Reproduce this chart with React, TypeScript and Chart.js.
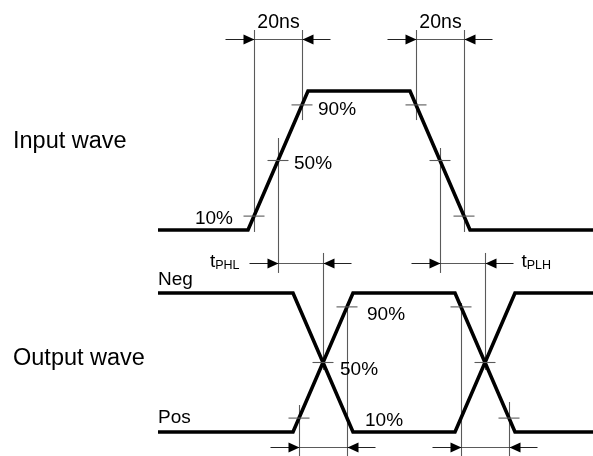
import React, { useEffect, useRef } from "react";
import { Chart, registerables } from "chart.js";
Chart.register(...registerables);

// Time axis in ns, signal levels in % of the swing
const inputTimes = [-37.5, 0, 25, 67.5, 92.5, 144];
const inputLevels = [0, 0, 100, 100, 0, 0];
const outputTimes = [-37.5, 18.75, 43.75, 86.25, 111.25, 144];
const negLevels = [100, 100, 0, 0, 100, 100];
const posLevels = [0, 0, 100, 100, 0, 0];

// Threshold crossings marked with short ticks
const inputMarkTimes = [2.5, 12.5, 22.5, 70, 80, 90];
const inputMarkLevels = [10, 50, 90, 90, 50, 10];
const posMarkTimes = [21.25, 31.25, 41.25, 88.75, 98.75, 108.75];
const posMarkLevels = [10, 50, 90, 90, 50, 10];

// Dimension annotations (start/end time of each measured interval)
const dimLabels = ["20ns", "20ns", "tPHL", "tPLH", "", ""];
const dimStart = [2.5, 70, 12.5, 80, 21.25, 88.75];
const dimEnd = [22.5, 90, 31.25, 98.75, 41.25, 108.75];

// Extension lines: time, axis, level range
const extTimes = [2.5, 22.5, 12.5, 70, 90, 80, 31.25, 98.75, 21.25, 41.25, 88.75, 108.75];
const extAxis = ["yIn", "yIn", "yIn", "yIn", "yIn", "yIn", "yOut", "yOut", "yOut", "yOut", "yOut", "yOut"];
const extFrom = [143.9, 143.9, 66.2, 143.9, 143.9, 59.0, 128.8, 128.8, 19.4, 92.8, 92.8, 21.6];
const extTo = [-1.4, 79.1, -30.9, 79.1, -1.4, -30.9, 44.6, 44.6, -17.3, -17.3, -17.3, -17.3];

// Percentage labels anchored at crossings
const pctText = ["10%", "50%", "90%", "90%", "50%", "10%"];
const pctTime = [2.5, 12.5, 22.5, 41.25, 31.25, 41.25];
const pctLevel = [10, 50, 90, 90, 50, 10];
const pctAxis = ["yIn", "yIn", "yIn", "yOut", "yOut", "yOut"];

const FONT = '"Liberation Sans", Arial, Helvetica, sans-serif';

export default function App() {
  const ref = useRef<HTMLCanvasElement | null>(null);

  useEffect(() => {
    if (!ref.current) return;
    const dimAxis = ["yIn", "yIn", "yOut", "yOut", "yOut", "yOut"];
    const dimRow = [137.4, 137.4, 121.6, 121.6, -10.8, -10.8];
    const pctDx = [-21, 16, 16, 20, 17, 18];
    const pctDy = [8, 8, 10, 13, 13, 8];
    const pctAlign = ["right", "left", "left", "left", "left", "left"];

    const annot = {
      id: "annot",
      beforeDatasetsDraw(chart: any) {
        const ctx = chart.ctx;
        const xs = chart.scales.x;
        ctx.save();
        ctx.strokeStyle = "#5a5a5a";
        ctx.lineWidth = 1.1;
        for (let i = 0; i < extTimes.length; i++) {
          const ys = chart.scales[extAxis[i]];
          const x = Math.round(xs.getPixelForValue(extTimes[i])) + 0.5;
          ctx.beginPath();
          ctx.moveTo(x, ys.getPixelForValue(extFrom[i]));
          ctx.lineTo(x, ys.getPixelForValue(extTo[i]));
          ctx.stroke();
        }
        for (let i = 0; i < dimStart.length; i++) {
          const ys = chart.scales[dimAxis[i]];
          const y = Math.round(ys.getPixelForValue(dimRow[i])) + 0.5;
          const x1 = Math.round(xs.getPixelForValue(dimStart[i])) + 0.5;
          const x2 = Math.round(xs.getPixelForValue(dimEnd[i])) + 0.5;
          ctx.strokeStyle = "#5a5a5a";
          ctx.beginPath();
          ctx.moveTo(x1, y);
          ctx.lineTo(x2, y);
          ctx.stroke();
          ctx.strokeStyle = "#222";
          ctx.beginPath();
          ctx.moveTo(x1 - 29, y);
          ctx.lineTo(x1, y);
          ctx.moveTo(x2 + 28, y);
          ctx.lineTo(x2, y);
          ctx.stroke();
          ctx.fillStyle = "#000";
          ctx.beginPath();
          ctx.moveTo(x1, y);
          ctx.lineTo(x1 - 11, y - 5);
          ctx.lineTo(x1 - 11, y + 5);
          ctx.closePath();
          ctx.fill();
          ctx.beginPath();
          ctx.moveTo(x2, y);
          ctx.lineTo(x2 + 11, y - 5);
          ctx.lineTo(x2 + 11, y + 5);
          ctx.closePath();
          ctx.fill();
          const lab = dimLabels[i];
          if (lab === "20ns") {
            ctx.font = `19.5px ${FONT}`;
            ctx.textAlign = "center";
            ctx.textBaseline = "alphabetic";
            ctx.fillText(lab, (x1 + x2) / 2, y - 12);
          } else if (lab) {
            const sub = lab.slice(1);
            ctx.textBaseline = "alphabetic";
            ctx.textAlign = "left";
            ctx.font = `12.5px ${FONT}`;
            const sw = ctx.measureText(sub).width;
            ctx.font = `19px ${FONT}`;
            const tw = ctx.measureText("t").width;
            let lx: number;
            if (i === 2) lx = x1 - 29 - 10 - sw - tw;
            else lx = x2 + 28 + 8;
            ctx.fillText("t", lx, y + 3.5);
            ctx.font = `12.5px ${FONT}`;
            ctx.fillText(sub, lx + tw, y + 5.5);
          }
        }
        ctx.restore();
      },
      afterDatasetsDraw(chart: any) {
        const ctx = chart.ctx;
        const xs = chart.scales.x;
        ctx.save();
        ctx.fillStyle = "#000";
        ctx.textBaseline = "alphabetic";
        ctx.font = `19px ${FONT}`;
        for (let i = 0; i < pctText.length; i++) {
          const ys = chart.scales[pctAxis[i]];
          ctx.textAlign = pctAlign[i];
          ctx.fillText(
            pctText[i],
            xs.getPixelForValue(pctTime[i]) + pctDx[i],
            ys.getPixelForValue(pctLevel[i]) + pctDy[i]
          );
        }
        const yo = chart.scales.yOut;
        ctx.textAlign = "left";
        ctx.fillText("Neg", xs.getPixelForValue(outputTimes[0]), yo.getPixelForValue(100) - 8);
        ctx.fillText("Pos", xs.getPixelForValue(outputTimes[0]), yo.getPixelForValue(0) - 9);
        ctx.font = `23.5px ${FONT}`;
        ctx.fillText("Input wave", 13, 148);
        ctx.fillText("Output wave", 13, 365);
        ctx.restore();
      },
    };

    const xy = (ts: number[], ls: number[]) => ts.map((t, i) => ({ x: t, y: ls[i] }));
    const wave = {
      showLine: true,
      borderColor: "#000",
      borderWidth: 3.6,
      pointRadius: 0,
      tension: 0,
      borderJoinStyle: "miter",
      borderCapStyle: "butt",
      fill: false,
    };
    const marks = {
      showLine: false,
      pointStyle: "line",
      pointRadius: 10.5,
      pointBorderWidth: 1.1,
      pointBorderColor: "#5a5a5a",
      pointBackgroundColor: "#5a5a5a",
    };

    const chart = new Chart(ref.current, {
      type: "scatter",
      data: {
        datasets: [
          { ...marks, data: xy(inputMarkTimes, inputMarkLevels), yAxisID: "yIn" },
          { ...marks, data: xy(posMarkTimes, posMarkLevels), yAxisID: "yOut" },
          { ...wave, data: xy(inputTimes, inputLevels), yAxisID: "yIn" },
          { ...wave, data: xy(outputTimes, negLevels), yAxisID: "yOut" },
          { ...wave, data: xy(outputTimes, posLevels), yAxisID: "yOut" },
        ] as any,
      },
      options: {
        animation: false,
        responsive: false,
        devicePixelRatio: 1,
        layout: { padding: 0, autoPadding: false },
        events: [],
        plugins: { legend: { display: false }, tooltip: { enabled: false } },
        scales: {
          x: { type: "linear", min: -103.333, max: 143.75, display: false, bounds: "data" },
          yIn: { type: "linear", min: -162.59, max: 165.47, display: false, bounds: "data" },
          yOut: { type: "linear", min: -17.27, max: 310.79, display: false, bounds: "data" },
        },
      } as any,
      plugins: [annot as any],
    });
    return () => chart.destroy();
  }, []);

  return (
    <div style={{ position: "absolute", left: 0, top: 0, width: 593, height: 456, background: "#fff" }}>
      <canvas ref={ref} width={593} height={456} style={{ display: "block" }} />
    </div>
  );
}
